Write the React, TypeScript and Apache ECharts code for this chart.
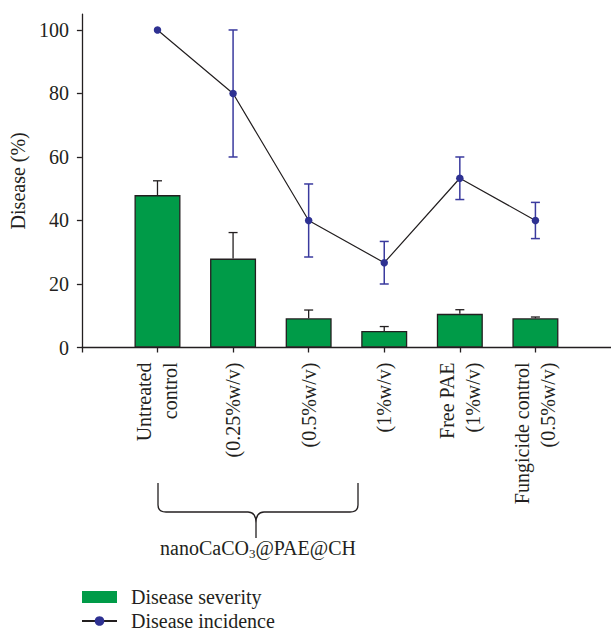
import React, { useEffect, useRef } from "react";
import * as echarts from "echarts";

const categories = [
  "Untreated\ncontrol",
  "(0.25%w/v)",
  "(0.5%w/v)",
  "(1%w/v)",
  "Free PAE\n(1%w/v)",
  "Fungicide control\n(0.5%w/v)",
];
const severity = [48, 28, 9.2, 5.2, 10.6, 9.2];
const severityUpper = [52.5, 36.2, 11.8, 6.6, 11.9, 9.6];
const incidence = [100, 80, 40, 26.7, 53.3, 40];
const incidenceErr = [0, 20, 11.5, 6.7, 6.7, 5.7];
const yTicks = [0, 20, 40, 60, 80, 100];
const xTicks = [0, 1, 2, 3, 4, 5, 6];

const FONT = "Liberation Serif";
const INK = "#231f20";
const GREEN = "#009b48";
const NAVY = "#2e3192";
const NAVY_ERR = "#3a3a9e";

export default function App() {
  const ref = useRef<HTMLDivElement>(null);
  useEffect(() => {
    if (!ref.current) return;
    echarts.graphic.registerShape(
      "brace",
      echarts.graphic.extendPath(
        "M0 0 L0 22 Q0 29 8 29 L90 29 Q98 29 98 40 L98 55 M98 40 Q98 29 106 29 L192 29 Q200 29 200 22 L200 0",
        {}
      )
    );
    const chart = echarts.init(ref.current, null, { renderer: "svg" });
    const barData = severity.map((v, i) => [i + 1, v]);
    const barErr = severity.map((v, i) => [i + 1, v, severityUpper[i]]);
    const lineData = incidence.map((v, i) => [i + 1, v]);
    const lineErr = incidence
      .map((v, i) => [i + 1, v - incidenceErr[i], v + incidenceErr[i]])
      .filter((d, i) => incidenceErr[i] > 0);

    const option: any = {
      animation: false,
      textStyle: { fontFamily: FONT, color: INK },
      grid: { left: 81, top: 14.1, width: 532.5, height: 333.4 },
      xAxis: {
        type: "value",
        min: 0,
        max: 7,
        interval: 1,
        splitLine: { show: false },
        axisLine: { show: true, lineStyle: { color: INK, width: 1.3 } },
        axisTick: { show: true, length: 5, customValues: xTicks, lineStyle: { color: INK, width: 1.3 } },
        axisLabel: {
          customValues: xTicks,
          rotate: 90,
          margin: 15,
          fontSize: 20,
          lineHeight: 26,
          fontFamily: FONT,
          color: INK,
          padding: [0, 0, 13, 0],
          formatter: (v: number) => (v >= 1 && v <= categories.length ? categories[v - 1] : ""),
        },
      },
      yAxis: {
        type: "value",
        min: 0,
        max: 105,
        name: "Disease (%)",
        nameLocation: "middle",
        nameGap: 51,
        nameTextStyle: { fontSize: 20, fontFamily: FONT, color: INK },
        splitLine: { show: false },
        axisLine: { show: true, lineStyle: { color: INK, width: 1.3 } },
        axisTick: { show: true, length: 5, customValues: yTicks, lineStyle: { color: INK, width: 1.3 } },
        axisLabel: { customValues: yTicks, margin: 13, fontSize: 20, fontFamily: FONT, color: INK },
      },
      legend: {
        orient: "vertical",
        left: 81,
        top: 587,
        width: 300,
        height: 60,
        padding: 0,
        itemWidth: 35,
        itemHeight: 12,
        itemGap: 4,
        textStyle: { fontSize: 20, fontFamily: FONT, color: INK, lineHeight: 20, padding: [0, 0, 0, 9] },
        data: [
          { name: "Disease severity", icon: "rect", itemStyle: { borderWidth: 0 } },
          { name: "Disease incidence" },
        ],
      },
      series: [
        {
          name: "Disease severity",
          type: "bar",
          data: barData,
          barWidth: 46,
          itemStyle: { color: GREEN, borderColor: INK, borderWidth: 1.3 },
          z: 2,
        },
        {
          type: "custom",
          data: barErr,
          z: 3,
          renderItem: (params: any, api: any) => {
            const x = api.value(0);
            const p0 = api.coord([x, api.value(1)]);
            const p1 = api.coord([x, api.value(2)]);
            const st = { stroke: INK, lineWidth: 1.3 };
            return {
              type: "group",
              children: [
                { type: "line", shape: { x1: p0[0], y1: p0[1], x2: p1[0], y2: p1[1] }, style: st },
                { type: "line", shape: { x1: p1[0] - 4.5, y1: p1[1], x2: p1[0] + 4.5, y2: p1[1] }, style: st },
              ],
            };
          },
        },
        {
          type: "custom",
          data: lineErr,
          z: 4,
          renderItem: (params: any, api: any) => {
            const x = api.value(0);
            const p0 = api.coord([x, api.value(1)]);
            const p1 = api.coord([x, api.value(2)]);
            const st = { stroke: NAVY_ERR, lineWidth: 1.5 };
            return {
              type: "group",
              children: [
                { type: "line", shape: { x1: p0[0], y1: p0[1], x2: p1[0], y2: p1[1] }, style: st },
                { type: "line", shape: { x1: p1[0] - 4.5, y1: p1[1], x2: p1[0] + 4.5, y2: p1[1] }, style: st },
                { type: "line", shape: { x1: p0[0] - 4.5, y1: p0[1], x2: p0[0] + 4.5, y2: p0[1] }, style: st },
              ],
            };
          },
        },
        {
          name: "Disease incidence",
          type: "line",
          data: lineData,
          symbol: "circle",
          symbolSize: 7.5,
          lineStyle: { color: INK, width: 1.2 },
          itemStyle: { color: NAVY, borderWidth: 0 },
          z: 5,
        },
      ],
      graphic: [
        {
          type: "brace",
          x: 158,
          y: 483,
          style: { fill: "none", stroke: INK, lineWidth: 1.3 },
        },
        {
          type: "text",
          x: 258,
          y: 548,
          style: {
            text: "{a|nanoCaCO}{s|3}{a|@PAE@CH}",
            align: "center",
            verticalAlign: "middle",
            fontFamily: FONT,
            fill: INK,
            rich: {
              a: { fontSize: 20, fontFamily: FONT, color: INK, lineHeight: 24 },
              s: { fontSize: 13, fontFamily: FONT, color: INK, lineHeight: 12, verticalAlign: "bottom" },
            },
          },
        },
      ],
    };
    chart.setOption(option);
    return () => chart.dispose();
  }, []);
  return (
    <div
      ref={ref}
      style={{ position: "absolute", left: 0, top: 0, width: 611, height: 631, background: "#fff" }}
    />
  );
}
